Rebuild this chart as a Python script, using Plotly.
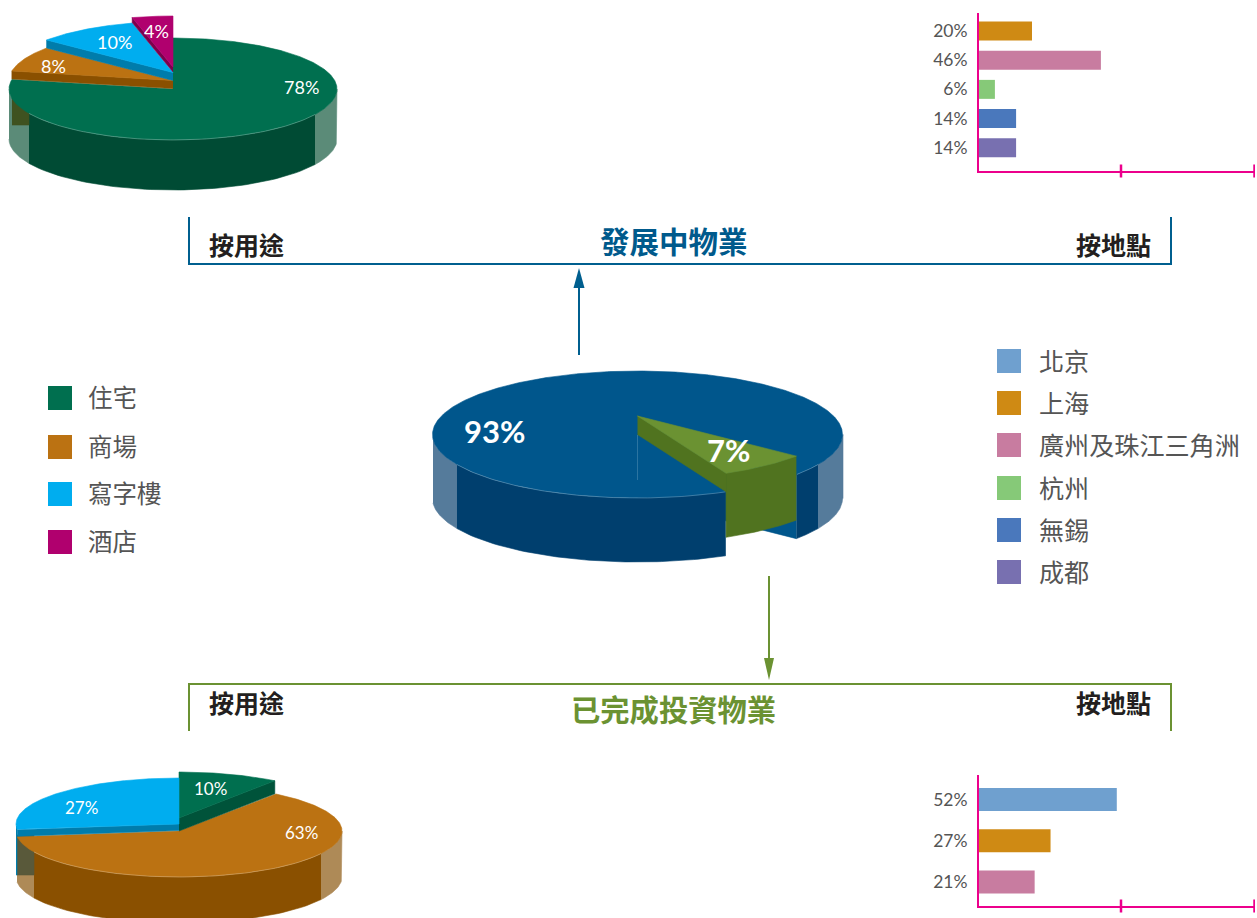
import numpy as np
import plotly.graph_objects as go

# ---------- data ----------
use_names = ["住宅", "商場", "寫字樓", "酒店"]
use_colors = ["#006f4f", "#bb7212", "#00adef", "#b0006e"]
region_names = ["北京", "上海", "廣州及珠江三角洲", "杭州", "無錫", "成都"]
region_colors = ["#6fa0cf", "#cf8a14", "#c87ca0", "#86c978", "#4a78bc", "#7870b0"]

dev_use_values = [78, 8, 10, 4]
done_use_values = [10, 63, 27]
split_values = [93, 7]

dev_regions = ["上海", "廣州及珠江三角洲", "杭州", "無錫", "成都"]
dev_region_values = [20, 46, 6, 14, 14]
done_regions = ["北京", "上海", "廣州及珠江三角洲"]
done_region_values = [52, 27, 21]

title_dev = "發展中物業"
title_done = "已完成投資物業"
by_use = "按用途"
by_place = "按地點"

CJK = "Noto Sans CJK TC"
LAT = "Lato"
W, H = 1257, 918
BLUE, GREEN, PINK = "#005f8f", "#6b9232", "#ec008c"

fig = go.Figure()


def pt(p, a, dy=0):
    r = np.radians(a)
    return p["cx"] + p["rx"] * np.sin(r), p["cy"] + dy - p["ry"] * np.cos(r)


def poly(xs, ys, color, hair=True):
    fig.add_trace(go.Scatter(
        x=list(xs), y=list(ys), mode="lines", fill="toself", fillcolor=color,
        line=dict(color=color, width=0.6 if hair else 0), hoverinfo="skip",
        showlegend=False, xaxis="x", yaxis="y"))


def wedge(p, a0, a1, color, dy=0):
    t = np.linspace(a0, a1, max(int(abs(a1 - a0)) * 2, 8))
    xs, ys = pt(p, t, dy)
    poly([p["cx"], *xs, p["cx"]], [p["cy"] + dy, *ys, p["cy"] + dy], color)


def band(p, x0, x1, color):
    xs = np.linspace(x0, x1, 60)
    rim = p["cy"] + p["ry"] * np.sqrt(np.clip(1 - ((xs - p["cx"]) / p["rx"]) ** 2, 0, 1))
    poly([*xs, *xs[::-1]], [*rim, *(rim + p["d"])[::-1]], color)


def cut_face(p, a, dy_top, color, depth):
    x1, y1 = pt(p, a, dy_top)
    poly([p["cx"], x1, x1, p["cx"]],
         [p["cy"] + dy_top, y1, y1 + depth, p["cy"] + dy_top + depth], color)


def rim(p, x0, x1):
    xs = np.linspace(x0, x1, 80)
    ys = p["cy"] + p["ry"] * np.sqrt(np.clip(1 - ((xs - p["cx"]) / p["rx"]) ** 2, 0, 1))
    fig.add_trace(go.Scatter(x=xs, y=ys, mode="lines", hoverinfo="skip", showlegend=False,
                             line=dict(color="rgba(255,255,255,0.35)", width=0.7)))


def edges(values, start=0.0):
    out = [start]
    for v in values:
        out.append(out[-1] + v * 3.6)
    return out


# ---------- top-left pie ----------
p1 = dict(cx=173, cy=89, rx=164, ry=51, d=50)
a = edges(dev_use_values)
band(p1, 9, 29, "#5b8b78")
band(p1, 29, 315, "#004b34")
band(p1, 315, 337, "#5b8b78")
poly([12, 29, 29, 12], [90, 90, 125, 125], "#3f5220")
wedge(p1, a[0], a[1], "#006f4f")
rim(p1, 29, 315)
cut_face(p1, a[1], -8.5, "#8a5000", 8)
wedge(p1, a[1], a[2], "#bb7212", -8.5)
cut_face(p1, a[2], -16.5, "#007cab", 8)
wedge(p1, a[2], a[3], "#00adef", -16.5)
cut_face(p1, a[3], -22, "#7b004c", 5)
wedge(p1, a[3], a[4], "#b0006e", -22)

# ---------- centre pie ----------
p0 = dict(cx=637.5, cy=434.5, rx=205, ry=63.5, d=64)
a = edges(split_values, 154.4)
cut_face(p0, a[1], 0, "#00568c", 64)
band(p0, 433, 457, "#557b9b")
band(p0, 457, 725.5, "#003f6e")
band(p0, 796.5, 818, "#003f6e")
band(p0, 818, 843, "#557b9b")
wedge(p0, a[0], a[1], "#00568c")
rim(p0, 457, 725.5)
rim(p0, 797, 818)
fig.add_trace(go.Scatter(x=[637.5, 637.5], y=[435, 480], mode="lines", hoverinfo="skip", showlegend=False,
                         line=dict(color="rgba(120,170,200,0.45)", width=0.8)))
# raised slice: outer wall, cut face, top
t = np.linspace(a[1] - 360, a[0], 30)
xs, ys = pt(p0, t, -18.5)
poly([*xs, *xs[::-1]], [*ys, *(ys + 64)[::-1]], "#50731f")
cut_face(p0, a[0], -18.5, "#50731f", 18.5)
wedge(p0, a[1] - 360, a[0], "#6b9232", -18.5)

# ---------- bottom-left pie ----------
p2 = dict(cx=179, cy=831, rx=163, ry=46, d=46)
a = edges(done_use_values)
band(p2, 17, 34, "#ae8a57")
band(p2, 34, 321, "#8a5000")
band(p2, 321, 342, "#ae8a57")
poly([17, 34, 34, 17], [835, 835, 875, 875], "#59593a")
poly([16, 17, 17, 16], [826, 826, 875, 875], "#007cab")
wedge(p2, a[1], a[2], "#bb7212")
rim(p2, 34, 321)
cut_face(p2, a[1], -13, "#00533a", 13)
wedge(p2, a[0], a[1], "#006f4f", -13)
cut_face(p2, a[2], -7, "#007cab", 6.5)
wedge(p2, a[2], a[3], "#00adef", -7)

# ---------- legends ----------
use_y = [398, 447, 494, 542]
reg_y = [361, 403, 445, 488, 530, 572]
fig.add_trace(go.Scatter(x=[60] * 4, y=use_y, mode="markers", hoverinfo="skip", showlegend=False,
                         marker=dict(symbol="square", size=24, color=use_colors)))
fig.add_trace(go.Scatter(x=[1009] * 6, y=reg_y, mode="markers", hoverinfo="skip", showlegend=False,
                         marker=dict(symbol="square", size=24, color=region_colors)))

ann = []


def txt(x, y, s, size, color, family=CJK, anchor="left", bold=False):
    ann.append(dict(x=x, y=y, xref="x", yref="y", text=f"<b>{s}</b>" if bold else s, showarrow=False,
                    xanchor=anchor, yanchor="middle", font=dict(family=family, size=size, color=color)))


for n, y in zip(use_names, use_y):
    txt(86, y - 1.5, n, 24.5, "#555555")
for n, y in zip(region_names, reg_y):
    txt(1037, y - 1, n, 25.1, "#555555")

# pie labels
for s, x, y in zip([f"{v}%" for v in dev_use_values], [301, 53, 114, 156], [87, 66, 42, 31]):
    txt(x, y, s, 18, "white", LAT, "center")
for s, x, y in zip([f"{v}%" for v in done_use_values], [210, 301, 81], [788, 832, 807]):
    txt(x, y, s, 17, "white", LAT, "center")
for s, x, y in zip([f"{v}%" for v in split_values], [494, 728.5], [431, 450]):
    txt(x, y, s, 31, "white", LAT, "center", True)

# headings
txt(246.5, 244, by_use, 25, "#231f20", CJK, "center", True)
txt(1113.5, 244, by_place, 25, "#231f20", CJK, "center", True)
txt(673.5, 239.5, title_dev, 29.5, "#005a8c", CJK, "center", True)
txt(246.5, 702, by_use, 25, "#231f20", CJK, "center", True)
txt(1113.5, 702, by_place, 25, "#231f20", CJK, "center", True)
txt(673.5, 707.5, title_done, 29.3, GREEN, CJK, "center", True)

shapes = []


def path(d, line=None, fill=None, width=2):
    shapes.append(dict(type="path", path=d, xref="x", yref="y", line=dict(color=line or "rgba(0,0,0,0)", width=width),
                       fillcolor=fill or "rgba(0,0,0,0)"))


path("M189,217 L189,264 L1171,264 L1171,217", BLUE)
path("M189,731 L189,684 L1171,684 L1171,731", GREEN)
path("M579,355 L579,285", BLUE)
path("M579,268 L584.5,288 L573.5,288 Z", None, BLUE, 0)
path("M769,576 L769,660", GREEN)
path("M769,680 L764,658 L774,658 Z", None, GREEN, 0)

# ---------- bar charts ----------
X_LEFT = 979
PX_PER_UNIT = 2.65
X_MAX = (1255 - X_LEFT) / PX_PER_UNIT
TICKS = [(1121 - X_LEFT) / PX_PER_UNIT, X_MAX]


def bar_panel(ax, names, values, colors, y_top, y_bot, rng, frac):
    xn, yn = f"x{ax}", f"y{ax}"
    fig.add_trace(go.Bar(x=values, y=names, orientation="h", marker=dict(color=colors, line=dict(width=0)),
                         width=frac, xaxis=xn, yaxis=yn, hoverinfo="skip", showlegend=False))
    span = y_bot - y_top
    for tv, lw in zip(TICKS, [2.5, 3.5]):
        shapes.append(dict(type="line", xref=xn, yref=f"{yn} domain", x0=tv, x1=tv,
                           y0=-6.5 / span, y1=6.5 / span, line=dict(color=PINK, width=lw)))
    fig.update_layout({
        f"xaxis{ax}": dict(domain=[X_LEFT / W, 1255 / W], range=[0, X_MAX], anchor=yn, showgrid=False, zeroline=False,
                           showline=True, linecolor=PINK, linewidth=2, showticklabels=False, ticks="", fixedrange=True),
        f"yaxis{ax}": dict(domain=[1 - y_bot / H, 1 - y_top / H], range=rng, anchor=xn, type="category",
                           categoryorder="array", categoryarray=names, showgrid=False, zeroline=False,
                           showline=True, linecolor=PINK, linewidth=2, ticks="", fixedrange=True,
                           tickmode="array", tickvals=names, ticktext=[f"{v}%" for v in values], ticklabelstandoff=6,
                           tickfont=dict(family=LAT, size=17.5, color="#555555")),
    })


c = dict(zip(region_names, region_colors))
bar_panel(2, dev_regions, dev_region_values, [c[n] for n in dev_regions], 13, 171, [4.796, -0.616], 0.65)
bar_panel(3, done_regions, done_region_values, [c[n] for n in done_regions], 775, 906, [2.579, -0.593], 0.557)

fig.update_layout(
    width=W, height=H, margin=dict(l=0, r=0, t=0, b=0), paper_bgcolor="white", plot_bgcolor="rgba(0,0,0,0)",
    xaxis=dict(domain=[0, 1], range=[0, W], visible=False, fixedrange=True),
    yaxis=dict(domain=[0, 1], range=[H, 0], visible=False, fixedrange=True),
    annotations=ann, shapes=shapes, showlegend=False, font=dict(family=CJK),
)
fig.write_html("out.html", config=dict(displayModeBar=False),
               post_script="document.body.style.margin='0';")
